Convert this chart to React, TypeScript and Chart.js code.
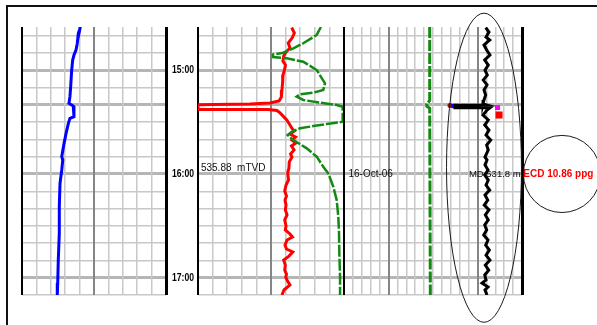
import { useEffect, useRef } from "react";
import { Chart, registerables } from "chart.js";

Chart.register(...registerables);

// ---------- data ----------
const timeTicks = [880, 890, 900, 910, 920, 930, 940, 950, 960, 970, 980, 990, 1000, 1010, 1020, 1030];
const boldTimeTicks = [900, 920, 960, 1020];
const hourTicks = [900, 960, 1020];
const hourLabels = ["15:00", "16:00", "17:00"];

const track1Ticks = [0, 1, 2, 3, 4, 5, 6, 7, 8, 9, 10];
const track3Ticks = [0, 10, 20, 30, 40, 50, 60, 70, 80, 90, 100];
const track4Ticks = [0, 1, 2, 3, 4, 5, 6, 7, 8, 9, 10, 11, 12, 13, 14, 15, 16, 17, 18, 19, 20];

const blueTime = [875.0, 875.8, 878.6, 884.4, 888.3, 891.2, 894.1, 899.9, 909.5, 915.3, 919.1, 920.7, 926.9,
  927.8, 930.7, 936.5, 942.3, 950.0, 951.9, 957.7, 965.4, 978.9, 994.2, 1009.8, 1023.1, 1030.0];
const blueValue = [4.05, 4.03, 3.91, 3.84, 3.75, 3.61, 3.52, 3.45, 3.38, 3.33, 3.26, 3.56, 3.61,
  3.33, 3.22, 3.06, 2.92, 2.76, 2.83, 2.76, 2.64, 2.59, 2.59, 2.52, 2.48, 2.45];

const redTime = [
  875.3, 878.5, 881.4, 884.3, 887.1, 889.5, 891.8, 894.7,
  897.0, 899.9, 902.8, 906.8, 911.4, 915.5, 917.8, 919.0,
  919.5, 920.0, 922.7, 922.7, 923.3, 924.7, 928.8, 931.7,
  933.4, 935.2, 936.9, 938.6, 940.4, 942.1, 943.8, 946.1,
  948.5, 950.2, 953.1, 956.6, 959.4, 963.5, 966.4, 969.9,
  972.7, 975.1, 978.0, 980.8, 983.7, 986.6, 990.1, 992.4,
  994.7, 996.5, 998.2, 1001.1, 1003.4, 1005.1, 1007.5, 1009.8,
  1012.7, 1015.6, 1017.9, 1019.6, 1021.9, 1024.2, 1027.1, 1030.0,
];
const redValue = [
  64.2, 66.0, 64.4, 61.8, 63.0, 60.3, 58.7, 58.2,
  59.9, 59.2, 58.2, 58.0, 57.5, 57.1, 55.5, 49.3,
  35.6, 0, 0, 47.9, 54.1, 56.2, 60.8, 63.0,
  64.2, 65.8, 63.0, 66.8, 64.4, 67.1, 64.0, 65.8,
  63.4, 64.4, 62.5, 62.3, 61.4, 62.0, 60.3, 59.4,
  60.6, 59.6, 60.3, 59.8, 61.0, 59.4, 60.3, 59.8,
  63.0, 64.7, 61.0, 59.6, 60.6, 64.9, 62.3, 58.7,
  59.8, 59.4, 60.6, 60.1, 61.3, 63.0, 58.9, 57.5,
];

const greenTime = [875.0, 879.6, 884.4, 887.3, 889.9, 890.9, 892.4, 893.1, 895.1, 899.9, 907.6, 911.4,
  913.0, 913.9, 915.3, 917.2, 918.8, 920.1, 921.1, 929.8, 931.1, 932.3, 933.6, 935.6, 937.5, 940.4,
  945.2, 950.0, 955.8, 959.6, 967.4, 975.1, 984.7, 994.3, 1005.9, 1019.4, 1030.0];
const greenValue = [84.2, 81.3, 72.1, 65.3, 58.4, 51.4, 51.4, 60.8, 72.1, 81.3, 87.0, 85.8,
  79.0, 69.9, 67.6, 72.1, 83.6, 95.0, 99.1, 99.1, 88.2, 79.0, 69.9, 64.2, 61.4, 65.3,
  74.5, 81.3, 85.8, 89.2, 92.7, 95.0, 96.1, 96.6, 96.8, 97.3, 97.3];

const greenLineTime = [875, 917.5, 919.6, 920.8, 922.0, 1030];
const greenLineValue = [9.63, 9.63, 9.3, 9.3, 9.63, 9.7];

const blackTime = [
  875.3, 877.9, 880.8, 882.5, 885.4, 888.3, 891.2, 894.1,
  897.0, 899.9, 902.8, 905.7, 908.5, 911.4, 914.3, 917.2,
  919.5, 920.1, 920.3, 921.7, 921.7, 923.0, 925.9, 928.8,
  931.7, 934.6, 937.5, 940.4, 943.3, 946.1, 950.2, 951.9,
  954.8, 957.7, 960.6, 963.5, 966.4, 969.3, 972.2, 975.1,
  978.0, 980.8, 983.7, 986.6, 989.5, 992.4, 995.3, 998.2,
  1001.1, 1004.0, 1006.9, 1009.8, 1012.7, 1015.6, 1018.4, 1021.3,
  1023.1, 1025.4, 1027.1, 1030.0,
];
const blackValue = [
  15.92, 16.29, 15.96, 16.37, 15.73, 16.03, 16.40, 15.81,
  16.21, 15.84, 16.10, 15.65, 16.07, 15.73, 15.92, 15.73,
  15.62, 16.01, 12.47, 12.47, 16.40, 16.07, 15.62, 16.21,
  15.81, 16.29, 15.96, 16.48, 16.03, 16.21, 15.84, 16.07,
  15.84, 16.18, 15.81, 16.21, 15.96, 16.37, 15.84, 16.15,
  15.76, 16.29, 15.88, 16.21, 15.81, 16.03, 15.70, 16.18,
  15.92, 16.33, 15.96, 16.40, 15.88, 16.26, 15.81, 15.96,
  15.51, 16.18, 15.84, 16.07,
];

const markerTime = [920.4, 920.7, 921.6, 925.9];
const markerValue = [11.91, 12.3, 17.25, 17.42];

const readoutTime = 960;
const tvdLabel = "535.88  mTVD";
const dateLabel = "16-Oct-06";
const mdLabel = "MD 531.8 m";
const ecdLabel = "ECD 10.86 ppg";

// annotation ellipses in data units (track 4 value, time)
const cursorEllipse = { x: 15.73, t: 956.4, rx: 4.21, rt: 89.4 };
const ecdCircle = { x: 24.49, t: 960.0, rx: 4.33, rt: 22.3 };

// ---------- layout / style ----------
const W = 597;
const H = 325;
const AREA_TOP = 27;
const AREA_BOTTOM = 295;
const T_MIN = 875;
const T_MAX = 1030;
const FONT = '"Liberation Sans", Arial, sans-serif';
const markerColors = ["#8b1010", "#0000ff", "#ff00ff", "#ff0000"];
const markerSizes = [2.5, 3, 3.5, 5];

const pts = (t: number[], v: number[]) => t.map((tt, i) => ({ x: v[i], y: tt }));

function yScale(showGrid: boolean) {
  return {
    type: "linear",
    reverse: true,
    min: T_MIN,
    max: T_MAX,
    afterBuildTicks: (s: any) => {
      s.ticks = timeTicks.map((v) => ({ value: v }));
    },
    ticks: { display: false },
    border: { display: false },
    grid: {
      display: showGrid,
      drawTicks: false,
      color: (c: any) => (boldTimeTicks.includes(c.tick?.value) ? "#b6b6b6" : "#c8c8c8"),
      lineWidth: (c: any) => (boldTimeTicks.includes(c.tick?.value) ? 3 : 1.5),
    },
  };
}

function xScale(max: number, ticks: number[], dark: number[], edges: number[], edgeW: number[], showGrid = true) {
  return {
    type: "linear",
    min: 0,
    max,
    afterBuildTicks: (s: any) => {
      s.ticks = ticks.map((v) => ({ value: v }));
    },
    ticks: { display: false },
    border: { display: false },
    grid: {
      display: showGrid,
      drawTicks: false,
      color: (c: any) => {
        const v = c.tick?.value;
        if (edges.includes(v)) return "#000000";
        if (dark.includes(v)) return "#858585";
        return "#c8c8c8";
      },
      lineWidth: (c: any) => {
        const v = c.tick?.value;
        const ei = edges.indexOf(v);
        if (ei >= 0) return edgeW[ei];
        if (dark.includes(v)) return 2;
        return 1.5;
      },
    },
  };
}

function baseOptions(left: number, right: number, scales: any) {
  return {
    responsive: false,
    animation: false,
    devicePixelRatio: 1,
    events: [],
    layout: { padding: { left, right: W - right, top: AREA_TOP, bottom: H - AREA_BOTTOM } },
    plugins: { legend: { display: false }, tooltip: { enabled: false } },
    scales,
  };
}

function lineDs(data: any[], color: string, width: number, dash: number[] = []) {
  return {
    data,
    showLine: true,
    borderColor: color,
    borderWidth: width,
    borderDash: dash,
    pointRadius: 0,
    tension: 0,
    fill: false,
  };
}

export default function App() {
  const c1 = useRef<HTMLCanvasElement>(null);
  const c2 = useRef<HTMLCanvasElement>(null);
  const c3 = useRef<HTMLCanvasElement>(null);
  const c4 = useRef<HTMLCanvasElement>(null);

  useEffect(() => {
    const charts: Chart[] = [];

    // Track 1
    charts.push(
      new Chart(c1.current as HTMLCanvasElement, {
        type: "scatter",
        data: { datasets: [lineDs(pts(blueTime, blueValue), "#0000ff", 3)] as any },
        options: baseOptions(22, 166, {
          y: yScale(true),
          x: xScale(10, track1Ticks, [5], [0, 10], [2, 3]),
        }) as any,
      })
    );

    // Time track
    charts.push(
      new Chart(c2.current as HTMLCanvasElement, {
        type: "scatter",
        data: { datasets: [] },
        options: baseOptions(166, 198, {
          y: yScale(false),
          x: xScale(1, [0, 1], [], [], [], false),
        }) as any,
        plugins: [
          {
            id: "timeLabels",
            afterDraw(chart: any) {
              const ctx = chart.ctx;
              const y = chart.scales.y;
              const a = chart.chartArea;
              const cx = (a.left + a.right) / 2 + 1;
              ctx.save();
              ctx.font = `bold 10px ${FONT}`;
              ctx.fillStyle = "#000";
              ctx.textAlign = "center";
              ctx.textBaseline = "middle";
              hourTicks.forEach((t, i) => {
                ctx.save();
                ctx.translate(cx, y.getPixelForValue(t) + 0.5);
                ctx.scale(0.86, 1);
                ctx.fillText(hourLabels[i], 0, 0);
                ctx.restore();
              });
              ctx.restore();
            },
          },
        ],
      })
    );

    // Track 3
    charts.push(
      new Chart(c3.current as HTMLCanvasElement, {
        type: "scatter",
        data: {
          datasets: [
            lineDs(pts(greenTime, greenValue), "#128a12", 2.5, [12, 2]),
            lineDs(pts(redTime, redValue), "#ff0000", 3),
          ] as any,
        },
        options: baseOptions(198, 344, {
          y: yScale(true),
          x: xScale(100, track3Ticks, [50], [0, 100], [2, 2]),
        }) as any,
        plugins: [
          {
            id: "tvd",
            afterDraw(chart: any) {
              const ctx = chart.ctx;
              const x = chart.scales.x;
              const y = chart.scales.y;
              ctx.save();
              ctx.font = `10px ${FONT}`;
              ctx.fillStyle = "#111";
              ctx.textAlign = "left";
              ctx.textBaseline = "alphabetic";
              ctx.fillText(tvdLabel, x.getPixelForValue(2), y.getPixelForValue(readoutTime) - 3);
              ctx.restore();
            },
          },
        ],
      })
    );

    // Track 4
    charts.push(
      new Chart(c4.current as HTMLCanvasElement, {
        type: "scatter",
        data: {
          datasets: [
            lineDs(pts(greenLineTime, greenLineValue), "#128a12", 3, [11, 2]),
            lineDs(pts(blackTime, blackValue), "#000000", 3),
            {
              data: pts(markerTime, markerValue),
              showLine: false,
              pointStyle: ["circle", "rect", "rect", "rect"],
              pointRadius: markerSizes,
              pointBackgroundColor: markerColors,
              pointBorderWidth: 0,
              borderWidth: 0,
            },
          ] as any,
        },
        options: baseOptions(344, 522, {
          y: yScale(true),
          x: xScale(20, track4Ticks, [5, 15], [0, 20], [2, 3]),
        }) as any,
        plugins: [
          {
            id: "readout",
            beforeDatasetsDraw(chart: any) {
              const ctx = chart.ctx;
              const x = chart.scales.x;
              const y = chart.scales.y;
              const yy = y.getPixelForValue(readoutTime) + 0.5;
              ctx.save();
              ctx.fillStyle = "#111";
              ctx.textBaseline = "middle";
              ctx.font = `10px ${FONT}`;
              ctx.textAlign = "left";
              ctx.fillText(dateLabel, x.getPixelForValue(0.5), yy);
              ctx.font = `9.5px ${FONT}`;
              ctx.textAlign = "right";
              ctx.fillText(mdLabel, x.getPixelForValue(19.85), yy);
              ctx.restore();
            },
            afterDraw(chart: any) {
              const ctx = chart.ctx;
              const x = chart.scales.x;
              const y = chart.scales.y;
              const drawEll = (e: { x: number; t: number; rx: number; rt: number }) => {
                const cx = x.getPixelForValue(e.x);
                const cy = y.getPixelForValue(e.t);
                const rx = Math.abs(x.getPixelForValue(e.x + e.rx) - cx);
                const ry = Math.abs(y.getPixelForValue(e.t + e.rt) - cy);
                ctx.beginPath();
                ctx.ellipse(cx, cy, rx, ry, 0, 0, Math.PI * 2);
                ctx.stroke();
              };
              ctx.save();
              ctx.strokeStyle = "#1a1a1a";
              ctx.lineWidth = 1;
              drawEll(cursorEllipse);
              drawEll(ecdCircle);
              ctx.font = `bold 10px ${FONT}`;
              ctx.fillStyle = "#ff0000";
              ctx.textAlign = "left";
              ctx.textBaseline = "middle";
              ctx.fillText(ecdLabel, x.getPixelForValue(20.15), y.getPixelForValue(readoutTime) + 0.5);
              ctx.restore();
            },
          },
        ],
      })
    );

    return () => charts.forEach((c) => c.destroy());
  }, []);

  const cs: React.CSSProperties = { position: "absolute", left: 0, top: 0 };
  return (
    <div style={{ position: "absolute", left: 0, top: 0, width: W, height: H, background: "#fff", overflow: "hidden" }}>
      <div
        style={{
          position: "absolute",
          left: 6,
          top: 5,
          width: W + 10,
          height: H + 10,
          borderTop: "2px solid #111",
          borderLeft: "2px solid #111",
        }}
      />
      <canvas ref={c1} width={W} height={H} style={cs} />
      <canvas ref={c2} width={W} height={H} style={cs} />
      <canvas ref={c3} width={W} height={H} style={cs} />
      <canvas ref={c4} width={W} height={H} style={cs} />
    </div>
  );
}
